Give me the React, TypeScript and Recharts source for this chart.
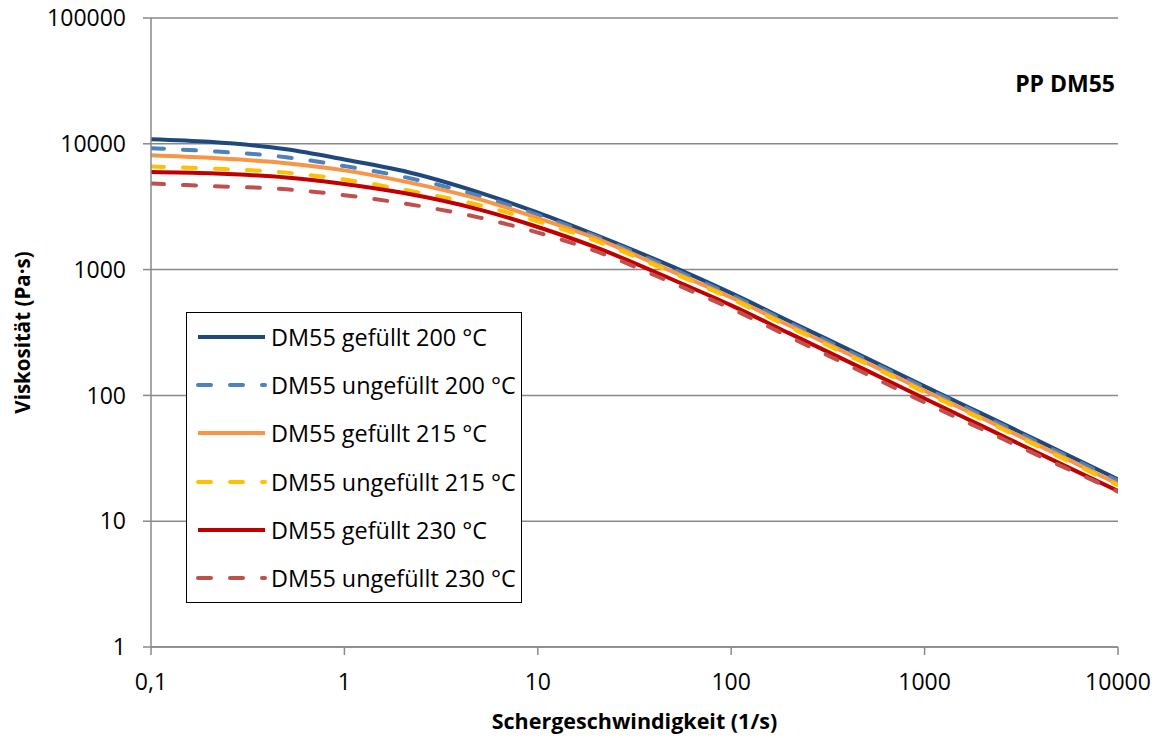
import { LineChart, Line, XAxis, YAxis, CartesianGrid, Legend } from 'recharts';

const FONT = "'Open Sans', sans-serif";
const GRID = '#898989';

// shear rate (1/s)
const SHEAR_RATES = [0.1, 0.2, 0.5, 1, 2, 5, 10, 20, 50, 100, 200, 500, 1000, 2000, 5000, 10000];

// viscosity (Pa·s)
const GEF_200 = [10890, 10380, 9040, 7500, 6100, 4090, 2840, 1880, 1050, 650, 389, 198, 118, 71, 36, 21.5];
const UNGEF_200 = [9230, 8750, 7820, 6650, 5480, 3850, 2720, 1840, 1010, 630, 377, 192, 115, 69, 35, 21];
const GEF_215 = [8110, 7730, 7010, 6150, 5050, 3620, 2570, 1770, 960, 600, 359, 182, 109, 65.5, 33.2, 19.7];
const UNGEF_215 = [6590, 6360, 5900, 5200, 4330, 3250, 2420, 1690, 940, 585, 350, 178, 106, 64, 32.4, 19.3];
const GEF_230 = [5970, 5830, 5400, 4800, 4080, 3000, 2180, 1500, 830, 520, 311, 158, 94.6, 56.7, 28.8, 17.4];
const UNGEF_230 = [4830, 4620, 4350, 3900, 3370, 2590, 1970, 1400, 780, 490, 292, 148, 88, 53.5, 27.8, 17.2];

const X_TICKS = [0.1, 1, 10, 100, 1000, 10000];
const X_TICK_LABELS = ['0,1', '1', '10', '100', '1000', '10000'];
const Y_TICKS = [1, 10, 100, 1000, 10000, 100000];

const SERIES = [
    { key: 'gef200', name: 'DM55 gefüllt 200 °C', values: GEF_200, color: '#1F497D', dashed: false },
    { key: 'ungef200', name: 'DM55 ungefüllt 200 °C', values: UNGEF_200, color: '#4F81BD', dashed: true },
    { key: 'gef215', name: 'DM55 gefüllt 215 °C', values: GEF_215, color: '#F79646', dashed: false },
    { key: 'ungef215', name: 'DM55 ungefüllt 215 °C', values: UNGEF_215, color: '#FFC000', dashed: true },
    { key: 'gef230', name: 'DM55 gefüllt 230 °C', values: GEF_230, color: '#C00000', dashed: false },
    { key: 'ungef230', name: 'DM55 ungefüllt 230 °C', values: UNGEF_230, color: '#C0504D', dashed: true },
];

const DATA = SHEAR_RATES.map((x, i) => {
    const row: Record<string, number> = { x };
    SERIES.forEach(s => { row[s.key] = s.values[i]; });
    return row;
});

const DASH = '13 19';

function LegendBox() {
    return (
        <div style={{
            width: 336, height: 291, boxSizing: 'border-box', border: '1.5px solid #000',
            background: '#fff', fontFamily: FONT, fontSize: 23.4, color: '#000'
        }}>
            {SERIES.map(s => (
                <div key={s.key} style={{ height: 48.2, display: 'flex', alignItems: 'center' }}>
                    <svg width={84} height={20} style={{ flex: 'none' }}>
                        <line x1={11} y1={10} x2={78} y2={10} stroke={s.color} strokeWidth={4}
                            strokeDasharray={s.dashed ? DASH : undefined} strokeLinecap={s.dashed ? 'round' : 'butt'} />
                    </svg>
                    <span style={{ whiteSpace: 'nowrap' }}>{s.name}</span>
                </div>
            ))}
        </div>
    );
}

export default function App() {
    const tickStyle = { fill: '#000', fontSize: 23, fontFamily: FONT };
    return (
        <div style={{ position: 'absolute', left: 0, top: 0, width: 1161, height: 738, background: '#fff' }}>
            <LineChart width={1161} height={738} data={DATA} margin={{ top: 18, right: 43, left: 0, bottom: 0 }}>
                <CartesianGrid vertical={false} stroke={GRID} strokeWidth={1.5} />
                <XAxis
                    dataKey="x" type="number" scale="log" domain={[0.1, 10000]} ticks={X_TICKS} interval={0}
                    allowDataOverflow height={91} tickSize={8} tickMargin={19}
                    tick={tickStyle} stroke={GRID} strokeWidth={1.5}
                    tickFormatter={(v: number) => X_TICK_LABELS[X_TICKS.indexOf(v)] ?? String(v)}
                    label={{
                        content: (p: any) => {
                            const vb = p.viewBox;
                            return (
                                <text x={vb.x + vb.width / 2} y={vb.y + 73} textAnchor="middle" dominantBaseline="central"
                                    fontFamily={FONT} fontWeight="bold" fontSize={21.5} fill="#000">
                                    Schergeschwindigkeit (1/s)
                                </text>
                            );
                        }
                    }}
                />
                <YAxis
                    type="number" scale="log" domain={[1, 100000]} ticks={Y_TICKS} interval={0}
                    allowDataOverflow width={151} tickSize={8} tickMargin={17}
                    tick={tickStyle} stroke={GRID} strokeWidth={1.5}
                    label={{
                        content: (p: any) => {
                            const vb = p.viewBox;
                            const cx = vb.x + 22;
                            const cy = vb.y + vb.height / 2;
                            return (
                                <text x={cx} y={cy} transform={`rotate(-90 ${cx} ${cy})`} textAnchor="middle"
                                    dominantBaseline="central" fontFamily={FONT} fontWeight="bold" fontSize={20.5} fill="#000">
                                    Viskosität (Pa·s)
                                </text>
                            );
                        }
                    }}
                />
                <Legend
                    layout="vertical" align="center" verticalAlign="middle"
                    wrapperStyle={{ left: 186, top: 312, width: 336, height: 291 }}
                    content={() => <LegendBox />}
                />
                {SERIES.map(s => (
                    <Line
                        key={s.key} dataKey={s.key} name={s.name} type="monotone"
                        stroke={s.color} strokeWidth={4}
                        strokeDasharray={s.dashed ? DASH : undefined}
                        strokeLinecap={s.dashed ? 'round' : 'butt'}
                        dot={false} activeDot={false} isAnimationActive={false}
                    />
                ))}
            </LineChart>
            <div style={{
                position: 'absolute', right: 46, top: 67, fontFamily: FONT, fontWeight: 'bold',
                fontSize: 23, color: '#000', whiteSpace: 'nowrap'
            }}>
                PP DM55
            </div>
        </div>
    );
}
